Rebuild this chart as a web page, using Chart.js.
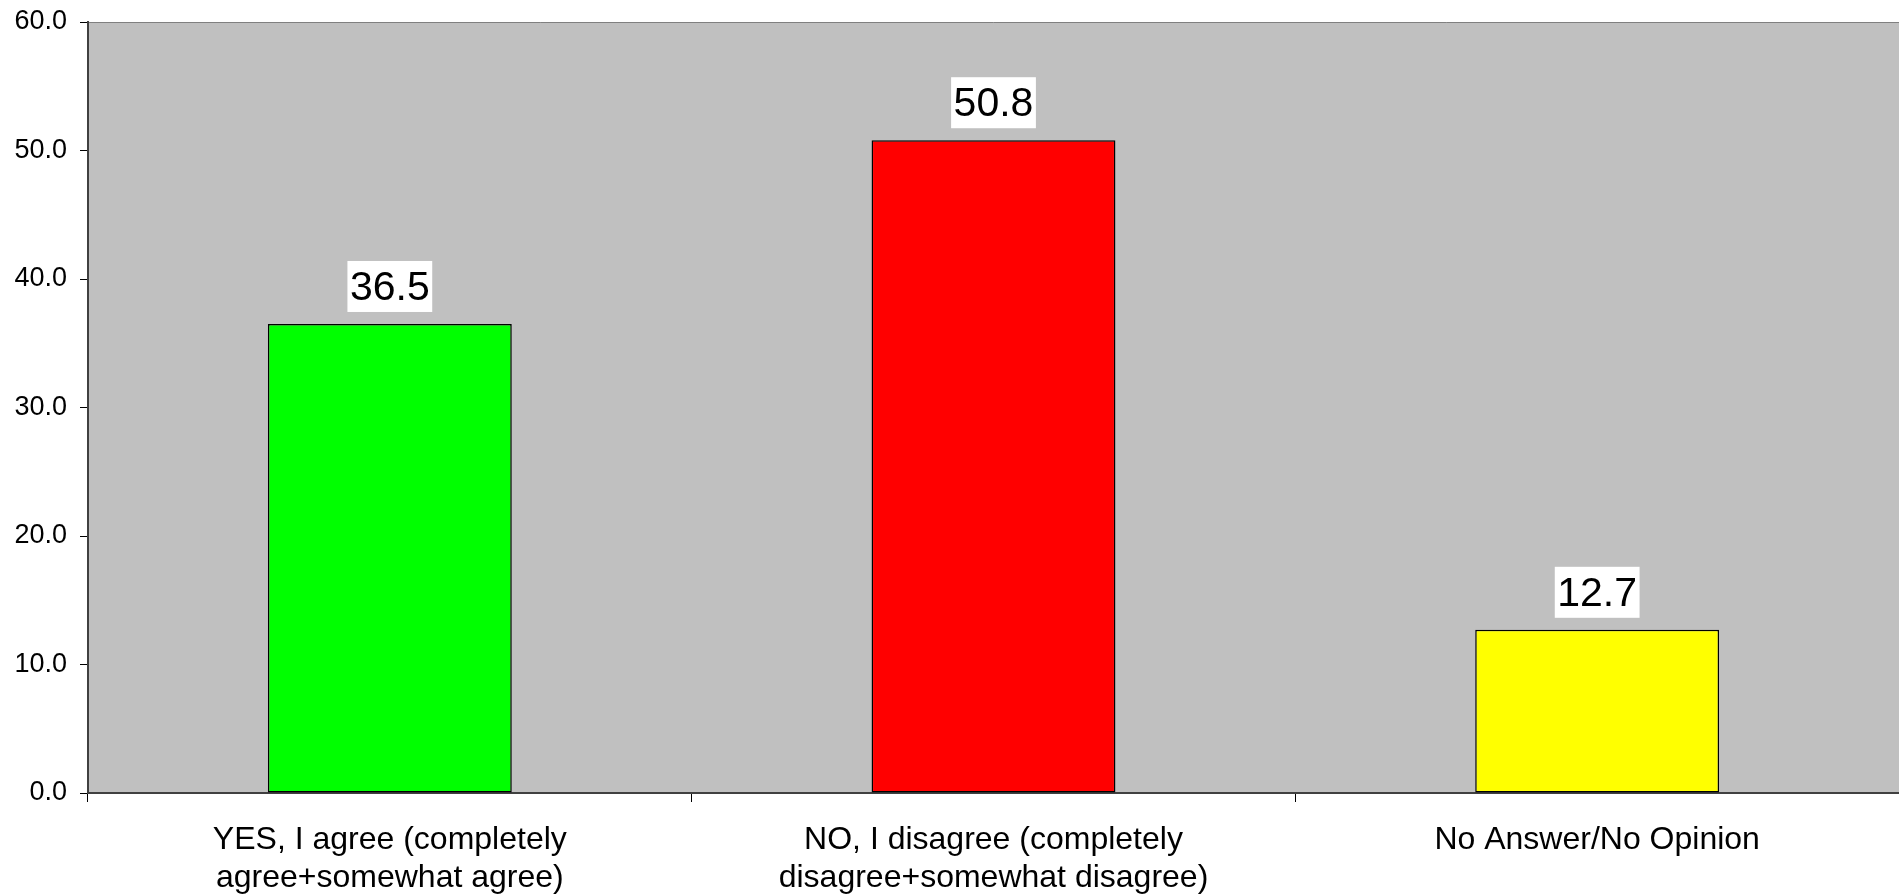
<!DOCTYPE html>
<html>
<head>
<meta charset="utf-8">
<script src="https://cdn.jsdelivr.net/npm/chart.js@4/dist/chart.umd.min.js"></script>
<style>
  html, body { margin: 0; padding: 0; background: #fff; }
  #wrap { width: 1899px; height: 895px; }
</style>
</head>
<body>
<div id="wrap"><canvas id="chart"></canvas></div>
<script>
// data
const categories = [
    ["YES, I agree (completely", "agree+somewhat agree)"],
    ["NO, I disagree (completely", "disagree+somewhat disagree)"],
    ["No Answer/No Opinion"]
];
const values = [36.5, 50.8, 12.7];
const barColors = ["#00FF00", "#FF0000", "#FFFF00"];
const yTicks = [0, 10, 20, 30, 40, 50, 60];

const FONT = "'Liberation Sans', Arial, sans-serif";

// plot background + top line
const plotBackground = {
    id: "plotBackground",
    beforeDraw(chart) {
        const { ctx, chartArea: a } = chart;
        ctx.save();
        ctx.fillStyle = "#C0C0C0";
        ctx.fillRect(a.left, a.top, a.right - a.left, a.bottom - a.top);
        ctx.strokeStyle = "#808080";
        ctx.lineWidth = 1;
        ctx.beginPath();
        ctx.moveTo(a.left, a.top + 0.5);
        ctx.lineTo(a.right, a.top + 0.5);
        ctx.stroke();
        ctx.restore();
    }
};

// value labels with white box above the bars
const valueLabels = {
    id: "valueLabels",
    afterDatasetsDraw(chart) {
        const { ctx } = chart;
        const meta = chart.getDatasetMeta(0);
        ctx.save();
        ctx.font = "41px " + FONT;
        ctx.textAlign = "center";
        ctx.textBaseline = "middle";
        meta.data.forEach((bar, i) => {
            const text = values[i].toFixed(1);
            const w = ctx.measureText(text).width + 5;
            const h = 51;
            const bottom = bar.y - 12;
            ctx.fillStyle = "#FFFFFF";
            ctx.fillRect(bar.x - w / 2, bottom - h, w, h);
            ctx.fillStyle = "#000000";
            ctx.fillText(text, bar.x, bottom - h / 2 + 2);
        });
        ctx.restore();
    }
};

new Chart(document.getElementById("chart"), {
    type: "bar",
    data: {
        labels: categories,
        datasets: [{
            data: values,
            backgroundColor: barColors,
            borderColor: "#000000",
            borderWidth: 1.5,
            borderSkipped: false,
            barPercentage: 0.404,
            categoryPercentage: 1.0
        }]
    },
    options: {
        responsive: true,
        maintainAspectRatio: false,
        animation: false,
        layout: { padding: { top: 22, right: 0, left: 0, bottom: 0 } },
        plugins: {
            legend: { display: false },
            tooltip: { enabled: false }
        },
        scales: {
            x: {
                grid: {
                    offset: true,
                    drawOnChartArea: false,
                    tickLength: 9,
                    color: "#000000",
                    lineWidth: 1
                },
                border: { color: "#404040", width: 2 },
                ticks: {
                    color: "#000000",
                    font: { family: FONT, size: 32 },
                    padding: 19,
                    maxRotation: 0,
                    autoSkip: false
                },
                afterFit(scale) { scale.height = 102; }
            },
            y: {
                min: 0,
                max: 60,
                afterBuildTicks(scale) { scale.ticks = yTicks.map(v => ({ value: v })); },
                grid: {
                    drawOnChartArea: false,
                    tickLength: 8,
                    color: "#000000",
                    lineWidth: 1
                },
                border: { color: "#404040", width: 2 },
                ticks: {
                    color: "#000000",
                    font: { family: FONT, size: 27, lineHeight: 1 },
                    padding: 13,
                    callback: v => Number(v).toFixed(1)
                },
                afterFit(scale) {
                    scale.width = 88;
                    scale.paddingTop = 0;
                    scale.paddingBottom = 0;
                }
            }
        }
    },
    plugins: [plotBackground, valueLabels]
});
</script>
</body>
</html>
